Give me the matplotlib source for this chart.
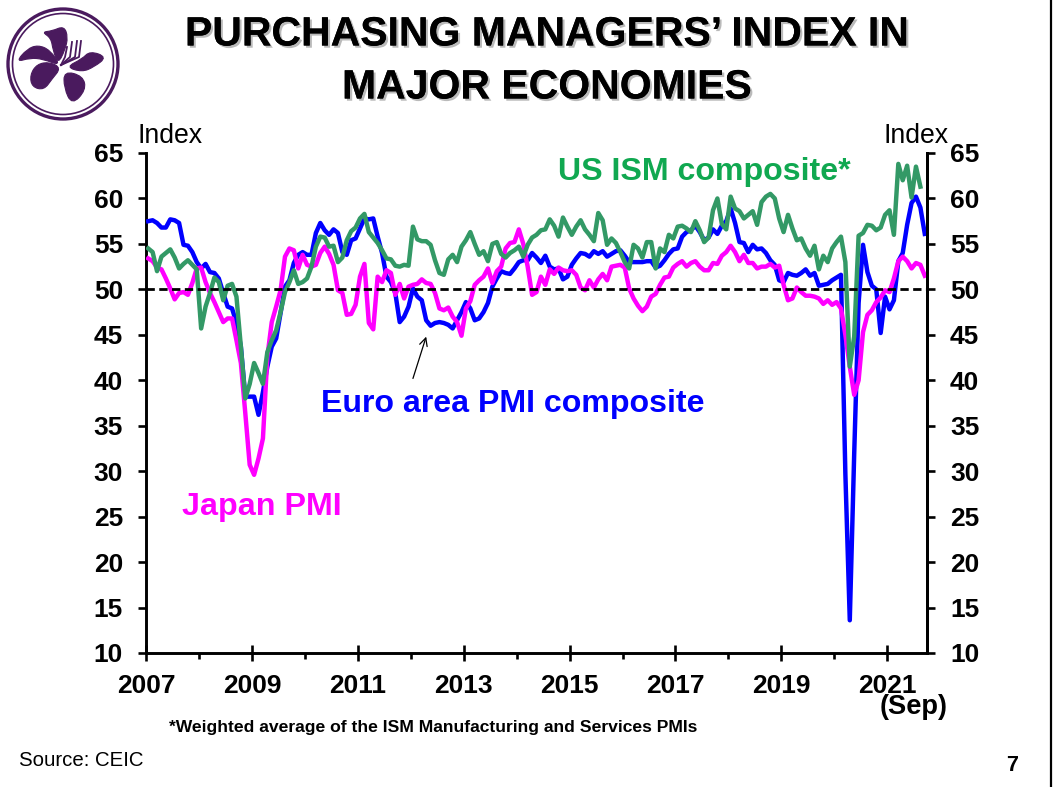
import matplotlib
matplotlib.use("Agg")
import matplotlib.pyplot as plt
import matplotlib.patheffects as pe
from matplotlib.patches import Circle, PathPatch
from matplotlib.path import Path
from matplotlib.ticker import FixedLocator, FixedFormatter, NullFormatter

plt.rcParams['font.family'] = ['Liberation Sans', 'DejaVu Sans']

title_lines = "PURCHASING MANAGERS\u2019 INDEX IN\nMAJOR ECONOMIES"
years = [2007, 2009, 2011, 2013, 2015, 2017, 2019, 2021]
y_ticks = [10, 15, 20, 25, 30, 35, 40, 45, 50, 55, 60, 65]

# monthly values, Jan 2007 onward
euro = [57.5,57.6,57.3,56.8,56.8,57.7,57.6,57.3,54.9,54.8,54.1,53.0,
        52.3,52.8,51.9,51.8,51.2,49.6,48.1,47.9,46.3,43.7,38.2,38.2,
        38.2,36.2,38.7,41.5,43.7,44.6,47.4,50.3,51.0,52.9,53.8,54.1,
        53.8,53.8,56.2,57.3,56.5,56.0,56.6,56.2,54.1,53.8,55.4,55.6,
        56.7,57.8,57.7,57.8,55.8,54.0,51.4,50.8,49.6,46.4,47.0,48.1,
        50.1,49.2,48.8,46.6,46.0,46.3,46.4,46.3,46.1,45.7,46.6,47.5,
        48.6,47.9,46.6,46.8,47.5,48.5,50.3,51.2,52.0,51.8,51.7,52.3,
        53.0,53.2,53.2,54.0,53.5,52.9,53.7,52.5,52.2,52.3,51.1,51.4,
        52.7,53.4,54.0,53.9,53.6,54.2,53.9,54.2,53.6,53.9,54.2,54.3,
        53.7,53.0,53.0,53.0,53.0,53.1,53.1,52.4,52.6,53.2,53.9,54.4,
        54.5,55.8,56.3,56.5,57.0,56.3,55.4,55.7,56.6,56.1,57.0,57.5,
        58.9,57.3,55.2,55.1,54.1,54.9,54.4,54.5,54.0,53.2,52.7,51.0,
        50.8,51.8,51.6,51.5,51.8,52.2,51.5,51.8,50.4,50.5,50.6,51.0,
        51.3,51.6,29.7,13.6,31.9,48.5,54.9,51.9,50.4,50.0,45.2,49.2,
        47.8,48.8,53.1,54.0,57.1,59.5,60.2,59.0,56.1]

us_ism = [54.5,54.1,52.0,53.6,54.0,54.4,53.5,52.3,52.8,53.2,52.7,52.2,
          45.7,48.1,49.6,51.3,50.8,48.8,50.4,50.6,49.2,43.7,38.0,39.6,
          41.9,40.8,39.6,43.1,44.4,45.5,47.5,49.7,50.8,52.1,50.6,50.8,
          51.2,52.5,54.7,55.8,55.7,54.7,54.8,53.0,53.5,55.4,56.4,56.8,
          57.8,58.3,56.3,55.7,55.1,54.3,53.4,53.3,52.6,52.5,52.7,52.6,
          56.9,55.5,55.3,55.3,54.9,53.2,51.8,51.6,53.3,53.8,53.0,54.7,
          55.4,56.3,55.0,53.8,54.2,53.1,55.0,55.2,53.9,53.5,54.0,54.3,
          54.7,53.6,54.9,55.7,56.0,56.5,56.6,57.7,57.0,55.8,57.9,56.9,
          56.0,56.9,57.6,56.6,56.0,55.3,58.4,57.6,54.9,55.6,55.1,54.1,
          53.0,52.3,54.9,54.5,53.5,55.2,55.2,52.3,54.5,54.1,56.0,55.6,
          56.9,57.0,56.7,56.3,57.5,56.5,55.2,55.7,58.7,60.0,57.2,56.6,
          60.2,58.9,58.6,57.8,58.2,58.6,57.1,59.6,60.2,60.5,60.0,57.8,
          56.3,58.2,56.7,55.4,55.6,54.5,53.7,54.8,52.2,53.7,53.0,54.5,
          55.2,55.8,53.0,41.5,44.8,55.9,56.2,57.1,57.0,56.5,56.8,58.2,
          58.7,56.0,63.8,62.0,63.6,60.1,63.5,61.3]

japan = [53.4,53.1,52.4,52.2,51.2,50.1,48.9,49.6,49.7,49.4,50.7,52.3,
         52.4,50.8,49.6,48.6,47.5,46.4,46.8,46.8,44.4,41.9,36.4,30.7,
         29.6,31.4,33.6,42.6,46.4,48.1,49.9,53.6,54.5,54.3,52.3,53.8,
         52.7,52.5,52.7,54.0,54.7,53.9,52.7,49.9,49.6,47.2,47.3,48.3,
         51.4,52.8,46.3,45.6,51.4,50.8,52.1,51.8,49.4,50.6,49.0,50.3,
         50.5,50.6,51.1,50.7,50.6,49.6,47.9,47.7,48.0,47.0,46.4,44.9,
         47.9,48.7,50.5,51.0,51.4,52.3,50.7,52.0,52.5,54.5,55.1,55.2,
         56.6,55.0,52.5,49.4,49.7,51.4,50.5,52.2,51.7,52.4,52.1,52.0,
         52.1,51.6,50.2,49.9,51.0,50.2,51.1,51.7,51.0,52.5,52.6,52.7,
         52.4,50.1,49.0,48.2,47.6,48.1,49.2,49.5,50.5,51.3,51.4,52.4,
         52.8,53.1,52.5,52.9,53.1,52.5,52.1,52.1,52.9,52.8,53.7,54.1,
         54.8,54.1,53.1,53.8,52.9,52.9,52.3,52.5,52.5,52.8,52.4,52.6,
         50.5,48.8,49.0,50.2,49.7,49.3,49.3,49.2,49.0,48.4,48.8,48.3,
         48.6,47.9,45.0,41.5,38.4,40.0,45.3,47.2,47.7,48.6,49.1,49.9,
         49.7,51.2,53.1,53.6,53.1,52.3,52.9,52.7,51.5]

W, H = 1053, 787
fig = plt.figure(figsize=(W / 100, H / 100), dpi=100, facecolor='white')

def fx(px):
    return px / W

def fy(py):
    return 1 - py / H

L, R, T, B = 146, 927, 153, 653
ax = fig.add_axes([fx(L), fy(B), fx(R - L), fy(T) - fy(B)])
ax.set_xlim(0, 177)
ax.set_ylim(10, 65)

def xs(series):
    return [i + 0.5 for i in range(len(series))]

lw = 3.2
ax.plot(xs(euro), euro, color='#0000ff', lw=lw, solid_joinstyle='round', zorder=3)
ax.plot(xs(japan), japan, color='#ff00ff', lw=lw, solid_joinstyle='round', zorder=4)
ax.plot(xs(us_ism), us_ism, color='#339966', lw=lw, solid_joinstyle='round', zorder=5)
ax.axhline(50, color='black', lw=2.0, dashes=(3.0, 1.6), zorder=6)

ax.spines['top'].set_visible(False)
for s in ['left', 'bottom', 'right']:
    ax.spines[s].set_linewidth(2.1)

tick_fs = 19
ax.yaxis.set_major_locator(FixedLocator(y_ticks))
ax.tick_params(axis='y', which='major', direction='out', length=6, width=1.9,
               pad=10.5, labelsize=tick_fs, left=True, right=False)
for t in ax.get_yticklabels():
    t.set_fontweight('bold')

month_major = [(y - 2007) * 12 for y in years]
month_minor = [m + 12 for m in month_major]
ax.xaxis.set_major_locator(FixedLocator(month_major))
ax.xaxis.set_major_formatter(FixedFormatter([str(y) for y in years]))
ax.xaxis.set_minor_locator(FixedLocator(month_minor))
ax.xaxis.set_minor_formatter(NullFormatter())
ax.tick_params(axis='x', which='major', direction='inout', length=12, width=1.9,
               pad=9, labelsize=tick_fs)
ax.tick_params(axis='x', which='minor', direction='out', length=4.5, width=1.9)
for t in ax.get_xticklabels():
    t.set_fontweight('bold')

axr = ax.twinx()
axr.set_ylim(10, 65)
axr.yaxis.set_major_locator(FixedLocator(y_ticks))
axr.tick_params(axis='y', direction='out', length=6, width=1.9, pad=10.5,
                labelsize=tick_fs)
for t in axr.get_yticklabels():
    t.set_fontweight('bold')
for s in ['top', 'left', 'bottom']:
    axr.spines[s].set_visible(False)
axr.spines['right'].set_linewidth(2.1)

def label(px, py, s, **kw):
    kw.setdefault('ha', 'left')
    kw.setdefault('va', 'baseline')
    return fig.text(fx(px), fy(py), s, **kw)

# title with soft shadow
shadow = [pe.withSimplePatchShadow(offset=(1.6, -1.6), shadow_rgbFace='#777777', alpha=0.5),
          pe.Normal()]
for line, py in zip(title_lines.split("\n"), [45.5, 98.5]):
    t = label(547, py, line, ha='center', fontsize=29.5, fontweight='bold', color='black')
    t.set_path_effects(shadow)

label(137, 143, "Index", fontsize=19.2)
label(883, 143, "Index", fontsize=19.2)

label(558, 180, "US ISM composite*", fontsize=23.1, fontweight='bold', color='#10a850')
label(321, 412, "Euro area PMI composite", fontsize=23.1, fontweight='bold', color='#0000ff')
label(182, 515, "Japan PMI", fontsize=23.2, fontweight='bold', color='#ff00ff')
label(880, 714, "(Sep)", fontsize=19.6, fontweight='bold')
label(169, 732, "*Weighted average of the ISM Manufacturing and Services PMIs",
      fontsize=12.6, fontweight='bold')
label(19, 766, "Source: CEIC", fontsize=14.7)
label(1006, 771, "7", fontsize=15.5, fontweight='bold')

ax.annotate("", xy=(63.5, 44.8), xytext=(60.5, 40.2),
            arrowprops=dict(arrowstyle='->', color='black', lw=0.9,
                            shrinkA=0, shrinkB=0, mutation_scale=14), zorder=7)

# right-hand slide border
fig.add_artist(plt.Line2D([fx(1051), fx(1051)], [0, 1], color='black', lw=1.6))

# logo, drawn in pixel coordinates
lg = fig.add_axes([0, fy(130), fx(130), 130 / H])
lg.set_xlim(0, 130)
lg.set_ylim(130, 0)
lg.axis('off')
purple = '#4a1a5e'
lg.add_patch(Circle((63, 64), 55, fill=False, ec=purple, lw=2.4))
lg.add_patch(Circle((63, 64), 50.5, fill=False, ec=purple, lw=1.2))

def blob(pts):
    """Closed smooth outline: quadratic curves through the edge midpoints."""
    n = len(pts)
    mid = lambda a, b: ((a[0] + b[0]) / 2, (a[1] + b[1]) / 2)
    verts = [mid(pts[-1], pts[0])]
    codes = [Path.MOVETO]
    for i in range(n):
        verts += [pts[i], mid(pts[i], pts[(i + 1) % n])]
        codes += [Path.CURVE3, Path.CURVE3]
    return Path(verts, codes)

petals = [
    [(42,32),(52,31),(64,26),(68,37),(65,50),(58,64),(53,50),(51,38)],
    [(16,62),(27,49),(38,45),(50,50),(61,66),(43,59),(30,58)],
    [(30,75),(37,64),(50,62),(61,68),(52,79),(44,90),(32,87)],
    [(64,71),(83,76),(86,90),(72,105),(64,88)],
    [(66,67),(82,59),(90,51),(107,57),(94,67),(82,72)],
]
for p in petals:
    lg.add_patch(PathPatch(blob(p), fc=purple, ec=purple, lw=0.8))
for end in [(67, 47), (72, 42), (77, 41), (81, 41)]:
    lg.plot([61, end[0] - 2, end[0]], [65, 57, end[1]], color=purple, lw=1.3)

fig.savefig("out.png", dpi=100)
